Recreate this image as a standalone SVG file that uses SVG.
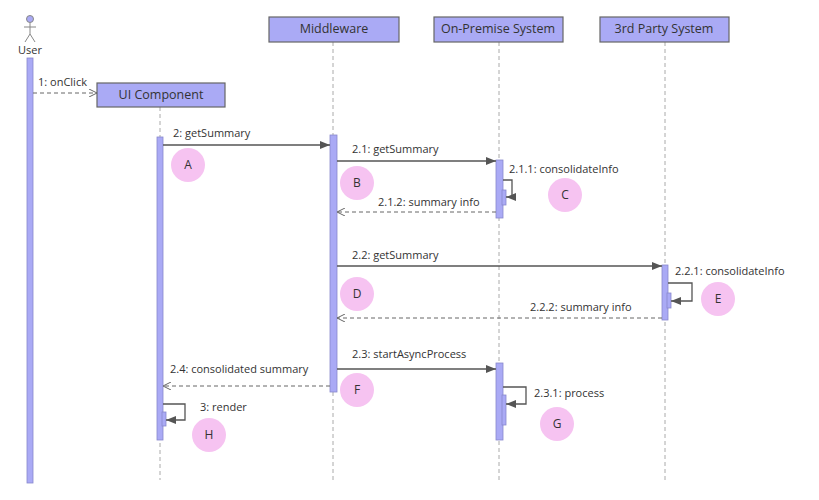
<svg xmlns="http://www.w3.org/2000/svg" width="819" height="500" viewBox="0 0 819 500">
<style>
text{font-family:"Open Sans","Liberation Sans",sans-serif;font-size:11px;fill:#333}
.box{fill:#aaaaf5;stroke:#666;stroke-width:1.2}
.bt{font-size:12.5px;text-anchor:middle}
.life{stroke:#aaa;stroke-dasharray:4 3;stroke-width:1}
.act{fill:#aaaaf5;stroke:#8888cc;stroke-width:0.8}
.msg{stroke:#555;stroke-width:1.3;fill:none}
.ret{stroke:#666;stroke-width:1;fill:none;stroke-dasharray:4 3}
.c{fill:#f6c3f1}
.ct{text-anchor:middle;font-size:12px}
</style>
<defs>
<marker id="f" markerWidth="10" markerHeight="8" refX="10" refY="4" orient="auto" markerUnits="userSpaceOnUse"><path d="M0,0 L10,4 L0,8z" fill="#555"/></marker>
<marker id="o" markerWidth="8" markerHeight="8" refX="8" refY="4" orient="auto" markerUnits="userSpaceOnUse"><path d="M0,0 L8,4 L0,8" fill="none" stroke="#666"/></marker>
</defs>
<g id="lifelines">
<line class="life" x1="160" y1="107" x2="160" y2="480"/>
<line class="life" x1="333" y1="42" x2="333" y2="480"/>
<line class="life" x1="499" y1="42" x2="499" y2="480"/>
<line class="life" x1="665" y1="42" x2="665" y2="480"/>
</g>
<g id="user">
<circle cx="30" cy="19" r="3.5" fill="#aaaaf5" stroke="#888"/>
<path d="M30,23 V34 M24,27 H36 M30,34 L25,42 M30,34 L35,42" stroke="#888" fill="none"/>
<text x="30" y="54" text-anchor="middle" font-size="12">User</text>
<rect class="act" x="27" y="58" width="6" height="425"/>
</g>
<g id="ui"><rect class="box" x="97" y="83" width="128" height="24"/><text class="bt" x="161" y="99">UI Component</text>
<rect class="act" x="157" y="137" width="6" height="303"/><rect class="act" x="162" y="412" width="4" height="14"/></g>
<g id="mw"><rect class="box" x="269" y="17" width="130" height="25"/><text class="bt" x="334" y="33">Middleware</text>
<rect class="act" x="330" y="135" width="7" height="257"/></g>
<g id="op"><rect class="box" x="434" y="17" width="129" height="25"/><text class="bt" x="498" y="33">On-Premise System</text>
<rect class="act" x="496" y="160" width="7" height="58"/><rect class="act" x="502" y="190" width="4" height="15"/>
<rect class="act" x="496" y="363" width="7" height="77"/><rect class="act" x="502" y="395" width="4" height="30"/></g>
<g id="tp"><rect class="box" x="600" y="17" width="129" height="25"/><text class="bt" x="664" y="33">3rd Party System</text>
<rect class="act" x="662" y="265" width="6" height="55"/><rect class="act" x="667" y="293" width="4" height="15"/></g>
<g id="connectors">
<line class="ret" x1="33" y1="93" x2="97" y2="93" marker-end="url(#o)"/><text x="38" y="86">1: onClick</text>
<line class="msg" x1="163" y1="145" x2="330" y2="145" marker-end="url(#f)"/><text x="173" y="137">2: getSummary</text>
<line class="msg" x1="337" y1="161" x2="496" y2="161" marker-end="url(#f)"/><text x="352" y="153">2.1: getSummary</text>
<path class="msg" d="M503,180 H512 V197 H506" marker-end="url(#f)"/><text x="509" y="173">2.1.1: consolidateInfo</text>
<line class="ret" x1="496" y1="212" x2="337" y2="212" marker-end="url(#o)"/><text x="378" y="206">2.1.2: summary info</text>
<line class="msg" x1="337" y1="266" x2="662" y2="266" marker-end="url(#f)"/><text x="352" y="259">2.2: getSummary</text>
<path class="msg" d="M668,283 H692 V301 H671" marker-end="url(#f)"/><text x="675" y="275">2.2.1: consolidateInfo</text>
<line class="ret" x1="662" y1="318" x2="337" y2="318" marker-end="url(#o)"/><text x="530" y="311">2.2.2: summary info</text>
<line class="msg" x1="337" y1="369" x2="496" y2="369" marker-end="url(#f)"/><text x="352" y="358">2.3: startAsyncProcess</text>
<path class="msg" d="M503,387 H526 V404 H506" marker-end="url(#f)"/><text x="534" y="397">2.3.1: process</text>
<line class="ret" x1="330" y1="386" x2="163" y2="386" marker-end="url(#o)"/><text x="170" y="373">2.4: consolidated summary</text>
<path class="msg" d="M163,404 H185 V420 H166" marker-end="url(#f)"/><text x="200" y="411">3: render</text>
</g>
<g id="callouts">
<circle class="c" cx="188" cy="165" r="17"/><text class="ct" x="188" y="169">A</text>
<circle class="c" cx="357" cy="183" r="17"/><text class="ct" x="357" y="187">B</text>
<circle class="c" cx="565" cy="195" r="17"/><text class="ct" x="565" y="199">C</text>
<circle class="c" cx="357" cy="294" r="17"/><text class="ct" x="357" y="298">D</text>
<circle class="c" cx="718" cy="299" r="17"/><text class="ct" x="718" y="303">E</text>
<circle class="c" cx="357" cy="390" r="17"/><text class="ct" x="357" y="394">F</text>
<circle class="c" cx="557" cy="424" r="17"/><text class="ct" x="557" y="428">G</text>
<circle class="c" cx="209" cy="435" r="17"/><text class="ct" x="209" y="439">H</text>
</g>
</svg>
